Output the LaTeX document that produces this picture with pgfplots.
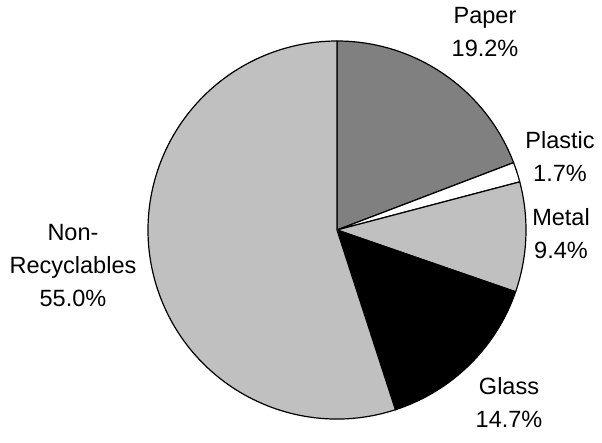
\documentclass[border=0pt]{standalone}
\usepackage{pgfplots}
\pgfplotsset{compat=1.18}
\usepackage{fontspec}
\setmainfont{Liberation Sans}

\definecolor{paper}{HTML}{808080}
\definecolor{lightgray}{HTML}{C0C0C0}

\begin{document}
\begin{tikzpicture}
\begin{axis}[
    hide axis,
    scale only axis,
    width=602pt, height=436pt,
    xmin=0, xmax=602,
    ymin=0, ymax=436,
    clip=false,
]
% shares in percent, clockwise from 12 o'clock
\pgfplotsextra{
  \path (axis cs:0,0) rectangle (axis cs:602,436);
  \gdef\acc{90}
  \foreach \v/\c in {19.2/paper, 1.7/white, 9.4/lightgray, 14.7/black, 55.0/lightgray}{
    \pgfmathsetmacro\a{\acc}
    \pgfmathsetmacro\b{\acc-3.6*\v}
    \filldraw[fill=\c, draw=black, line width=1.2pt, line join=round]
      (axis cs:337,206) -- ++(\a:189pt) arc[start angle=\a, end angle=\b, radius=189pt] -- cycle;
    \xdef\acc{\b}
  }
}
\begin{scope}[every node/.style={align=center, font=\fontsize{23.5}{33}\selectfont}]
\node at (axis cs:485,404) {Paper\\19.2\%};
\node at (axis cs:560,279) {Plastic\\1.7\%};
\node at (axis cs:561,202) {Metal\\9.4\%};
\node at (axis cs:509,33) {Glass\\14.7\%};
\node at (axis cs:73,170) {Non-\\Recyclables\\55.0\%};
\end{scope}
\end{axis}
\end{tikzpicture}
\end{document}
